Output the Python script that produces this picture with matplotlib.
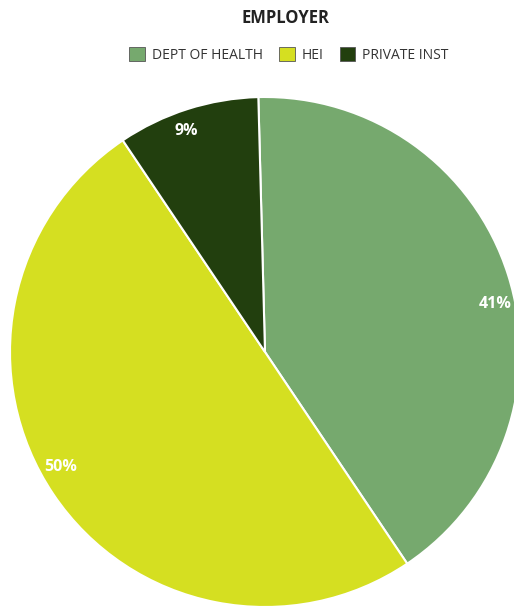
import numpy as np
import matplotlib.pyplot as plt
from matplotlib.patches import Patch

plt.rcParams['font.family'] = ['Open Sans', 'DejaVu Sans']

employers = ["DEPT OF HEALTH", "HEI", "PRIVATE INST"]
shares = [41, 50, 9]
colors = ["#76A96E", "#D5DF21", "#223F0E"]

fig = plt.figure(figsize=(5.14, 6.06), dpi=100)
ax = fig.add_axes([10 / 514, -1 / 606, 510 / 514, 510 / 606])

wedges, texts, autotexts = ax.pie(
    shares, colors=colors, startangle=91.5, counterclock=False,
    autopct=lambda p: f"{p:.0f}%", pctdistance=0.92,
    wedgeprops=dict(edgecolor="white", linewidth=1.5),
    textprops=dict(color="white", fontsize=11.5, fontweight="bold"),
)

# nudge the percentage labels a little around the rim
nudge = [-6, -4.5, 2]
for w, t, d in zip(wedges, autotexts, nudge):
    ang = np.deg2rad((w.theta1 + w.theta2) / 2 + d)
    t.set_position((0.92 * np.cos(ang), 0.92 * np.sin(ang)))

ax.set_xlim(-1, 1)
ax.set_ylim(-1, 1)
ax.set_aspect("equal")

fig.text(285 / 514, 1 - 18 / 606, "EMPLOYER", ha="center", va="center",
         fontsize=12, fontweight="bold", color="#222222")

handles = [Patch(facecolor=c, edgecolor="#555555", linewidth=0.6) for c in colors]
fig.legend(handles, employers, loc="center", bbox_to_anchor=(289 / 514, 1 - 55 / 606),
           ncol=3, frameon=False, fontsize=10, handlelength=1.1, handleheight=1.1,
           columnspacing=1.2, handletextpad=0.5, labelcolor="#333333")

fig.savefig("out.png", dpi=100)
